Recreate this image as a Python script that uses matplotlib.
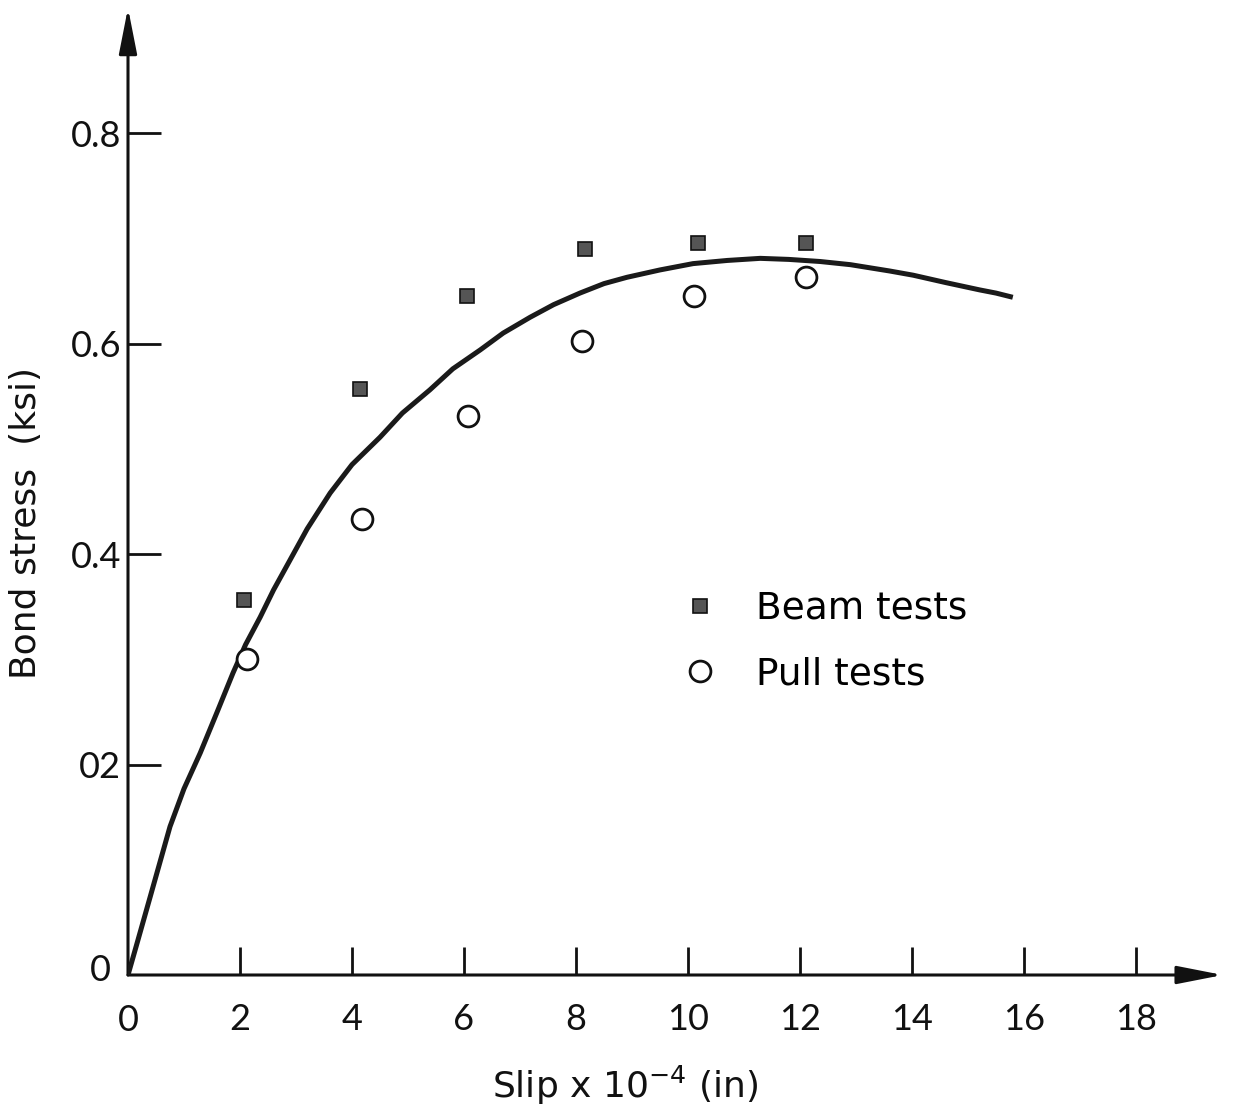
import matplotlib
matplotlib.use("Agg")
import matplotlib.pyplot as plt
from matplotlib.lines import Line2D

# ---- data ----
beam_x = [2.07, 4.14, 6.05, 8.16, 10.18, 12.1]
beam_y = [0.356, 0.557, 0.645, 0.690, 0.696, 0.696]

pull_x = [2.12, 4.18, 6.07, 8.1, 10.1, 12.1]
pull_y = [0.300, 0.433, 0.531, 0.602, 0.645, 0.663]

curve_x = [0, 0.15, 0.4, 0.75, 1.0, 1.29, 1.6, 1.875, 2.1, 2.36, 2.6, 2.89, 3.2,
           3.61, 4.0, 4.5, 4.9, 5.39, 5.8, 6.29, 6.7, 7.18, 7.6, 8.07, 8.5,
           8.91, 9.5, 10.09, 10.7, 11.29, 11.8, 12.36, 12.9, 13.6, 14.02,
           14.6, 15.21, 15.5, 15.8]
curve_y = [0, 0.028, 0.075, 0.141, 0.177, 0.211, 0.251, 0.287, 0.314, 0.340,
           0.366, 0.394, 0.424, 0.458, 0.485, 0.511, 0.534, 0.556, 0.576,
           0.594, 0.610, 0.625, 0.637, 0.648, 0.657, 0.663, 0.670, 0.676,
           0.679, 0.681, 0.680, 0.678, 0.675, 0.669, 0.665, 0.658, 0.651,
           0.648, 0.644]

x_ticks = [0, 2, 4, 6, 8, 10, 12, 14, 16, 18]
x_tick_labels = ["0", "2", "4", "6", "8", "10", "12", "14", "16", "18"]
y_ticks = [0.2, 0.4, 0.6, 0.8]
y_tick_labels = ["02", "0.4", "0.6", "0.8"]

plt.rcParams['font.family'] = ['DejaVu Sans']
plt.rcParams['mathtext.fontset'] = 'dejavusans'

W, H = 1235, 1120
fig = plt.figure(figsize=(W / 100, H / 100), dpi=100)
ax = fig.add_axes([128 / W, (H - 975) / H, 1092 / W, 965 / H])
ax.set_xlim(0, 19.5)
ax.set_ylim(0, 0.917)
for s in ax.spines.values():
    s.set_visible(False)

ink = "#111111"
tickfont = dict(family=["Lato", "DejaVu Sans"], size=26)

# axes with arrows
arrow_style = "-|>,head_length=2.8,head_width=0.55"
ax.annotate("", xy=(19.55, 0), xytext=(0, 0), xycoords="data",
            arrowprops=dict(arrowstyle=arrow_style, lw=2.2, color=ink,
                            shrinkA=0, shrinkB=0),
            annotation_clip=False)
ax.annotate("", xy=(0, 0.919), xytext=(0, 0), xycoords="data",
            arrowprops=dict(arrowstyle=arrow_style, lw=2.2, color=ink,
                            shrinkA=0, shrinkB=0),
            annotation_clip=False)

ax.set_xticks(x_ticks[1:])
ax.set_xticklabels(x_tick_labels[1:], fontdict=tickfont)
ax.set_yticks(y_ticks)
ax.set_yticklabels(y_tick_labels, fontdict=tickfont)
ax.tick_params(axis="x", direction="in", length=20, width=2, color=ink,
               pad=20, labelcolor=ink)
ax.tick_params(axis="y", direction="in", length=24, width=2, color=ink,
               pad=5, labelcolor=ink)
ax.text(0, -0.043, "0", ha="center", va="center", color=ink, clip_on=False,
        **{"family": tickfont["family"], "size": 26})
ax.text(-0.5, 0.004, "0", ha="center", va="center", color=ink, clip_on=False,
        **{"family": tickfont["family"], "size": 26})

ax.plot(curve_x, curve_y, color="#1a1a1a", lw=3.6, solid_joinstyle="round",
        solid_capstyle="butt", zorder=3)
ax.plot(beam_x, beam_y, ls="none", marker="s", ms=10, mfc="#555555",
        mec="#111111", mew=1.2, zorder=4)
ax.plot(pull_x, pull_y, ls="none", marker="o", ms=15, mfc="white",
        mec="#111111", mew=2, zorder=4)

ax.set_xlabel("Slip x 10$^{-4}$ (in)", fontsize=26, color=ink)
ax.xaxis.set_label_coords(0.455, -0.092)
ax.set_ylabel("Bond stress  (ksi)", fontsize=26, color=ink)
ax.yaxis.set_label_coords(-0.078, 0.468)

handles = [Line2D([], [], ls="none", marker="s", ms=10, mfc="#555555", mec="#111111", mew=1.2),
           Line2D([], [], ls="none", marker="o", ms=15, mfc="white", mec="#111111", mew=2)]
ax.legend(handles, ["Beam tests", "Pull tests"], loc="upper left",
          bbox_to_anchor=(647 / W, 1 - 557 / H), bbox_transform=fig.transFigure,
          frameon=False, fontsize=27, handlelength=1.0, handletextpad=1.0,
          labelspacing=0.79, borderpad=0.4)

fig.savefig("out.png", dpi=100, facecolor="white")
